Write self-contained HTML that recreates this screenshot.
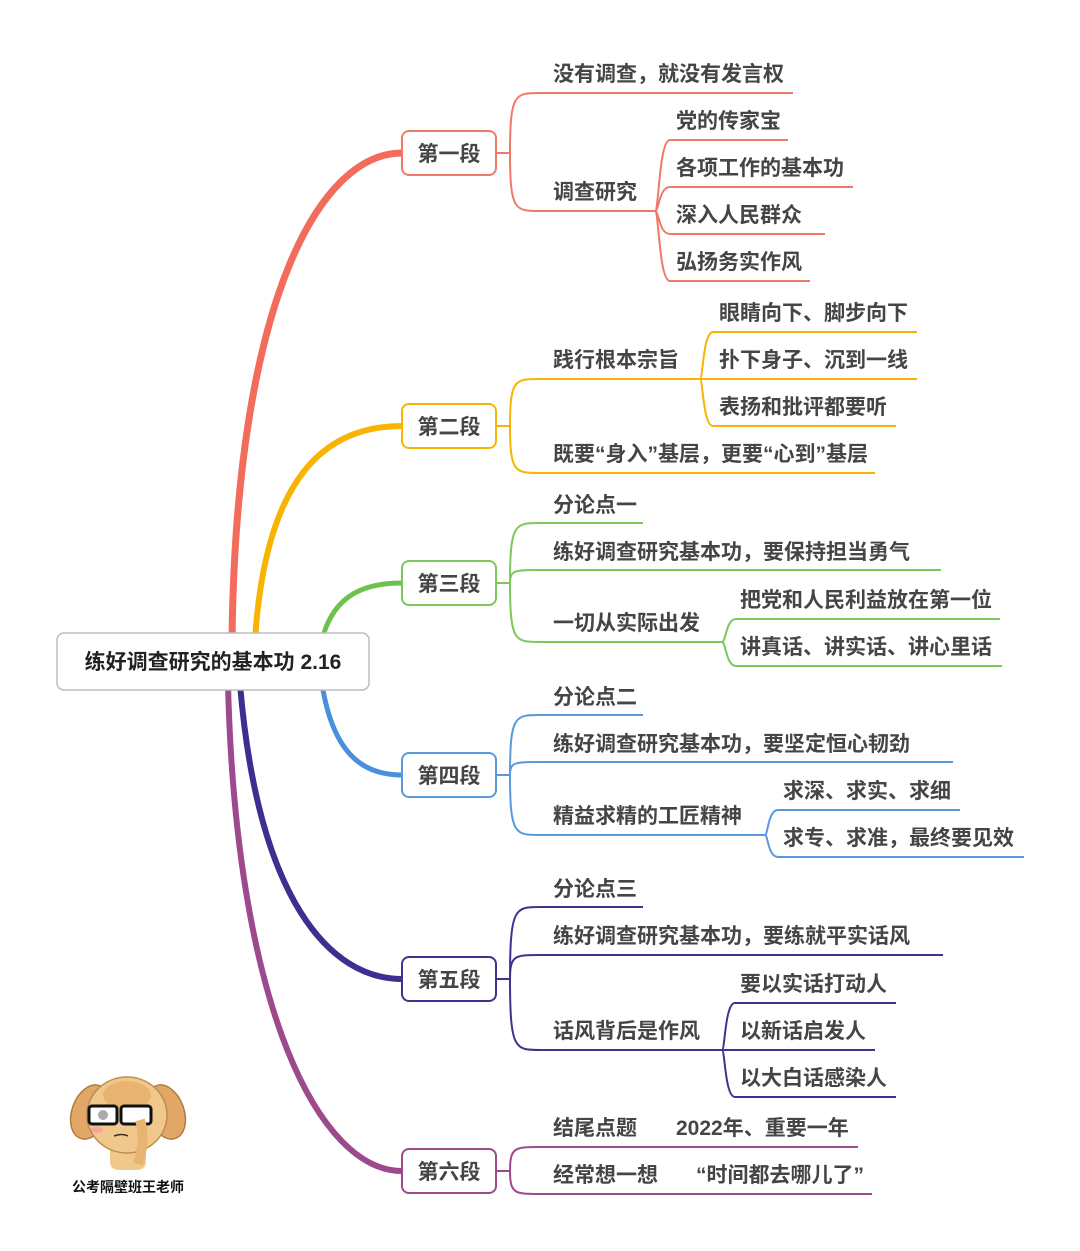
<!DOCTYPE html>
<html><head><meta charset="utf-8"><style>
html,body{margin:0;padding:0;background:#fff;}
svg{display:block;}
text{font-family:"Liberation Sans","Noto Sans CJK SC",sans-serif;font-weight:bold;fill:#454545;font-size:21px;}
</style></head><body>
<svg width="1080" height="1251" viewBox="0 0 1080 1251" xmlns="http://www.w3.org/2000/svg">
<g fill="none" stroke-linecap="round">
<!-- main curves -->
<path d="M232,640 C236,300 320,153 402,153" stroke="#f26b5b" stroke-width="7"/>
<path d="M255,640 C266,470 330,426 402,426" stroke="#f8b400" stroke-width="6"/>
<path d="M322,640 C334,592 368,583 402,583" stroke="#6cc24a" stroke-width="5"/>
<path d="M322,684 C334,760 368,775 402,775" stroke="#4a8fdc" stroke-width="5"/>
<path d="M240,684 C258,900 330,979 402,979" stroke="#3b2f8f" stroke-width="6"/>
<path d="M228,684 C236,1010 320,1171 402,1171" stroke="#9c4a8c" stroke-width="6"/>
</g>
<!-- root -->
<rect x="57" y="633" width="312" height="57" rx="7" fill="#fff" stroke="#bdbdbd" stroke-width="1.5"/>
<text x="213" y="669" text-anchor="middle" style="fill:#222">练好调查研究的基本功 2.16</text>

<g fill="none" stroke-width="2">
<!-- seg1 red -->
<g stroke="#f07a6a">
<path d="M496,153 H510 M510,153 C510,93 515,93 540,93 H793 M510,153 C510,211 515,211 540,211 H655"/>
<path d="M655,211 C659,211 659,140 670,140 H788 M655,211 C659,211 659,187 670,187 H853 M655,211 C659,211 659,234 670,234 H825 M655,211 C659,211 659,281 670,281 H810"/>
</g>
<!-- seg2 -->
<g stroke="#f8b400">
<path d="M496,426 H510 M510,426 C510,379 515,379 540,379 H700 M510,426 C510,473 515,473 540,473 H875"/>
<path d="M700,379 C703,379 703,332 713,332 H917 M700,379 H917 M700,379 C703,379 703,426 713,426 H896"/>
</g>
<!-- seg3 -->
<g stroke="#7cc75a">
<path d="M496,583 H510 M510,583 C510,523 515,523 540,523 H643 M510,583 C510,570 515,570 540,570 H941 M510,583 C510,642 515,642 540,642 H722"/>
<path d="M722,642 C726,642 726,619 736,619 H1000 M722,642 C726,642 726,666 736,666 H1002"/>
</g>
<!-- seg4 -->
<g stroke="#5a98dc">
<path d="M496,775 H510 M510,775 C510,715 515,715 540,715 H643 M510,775 C510,762 515,762 540,762 H953 M510,775 C510,835 515,835 540,835 H765"/>
<path d="M765,835 C768,835 768,810 778,810 H960 M765,835 C768,835 768,857 778,857 H1024"/>
</g>
<!-- seg5 -->
<g stroke="#3f3390">
<path d="M496,979 H510 M510,979 C510,907 515,907 540,907 H643 M510,979 C510,955 515,955 540,955 H943 M510,979 C510,1050 515,1050 540,1050 H722"/>
<path d="M722,1050 C725,1050 725,1003 735,1003 H896 M722,1050 H875 M722,1050 C725,1050 725,1097 735,1097 H896"/>
</g>
<!-- seg6 -->
<g stroke="#9c4a8c">
<path d="M496,1171 H510 M510,1171 C510,1147 515,1147 540,1147 H858 M510,1171 C510,1194 515,1194 540,1194 H872"/>
</g>
</g>

<!-- branch boxes -->
<g fill="#fff" stroke-width="2">
<rect x="402" y="131" width="94" height="44" rx="7" stroke="#f07a6a"/>
<rect x="402" y="404" width="94" height="44" rx="7" stroke="#f8b400"/>
<rect x="402" y="561" width="94" height="44" rx="7" stroke="#7cc75a"/>
<rect x="402" y="753" width="94" height="44" rx="7" stroke="#5a98dc"/>
<rect x="402" y="957" width="94" height="44" rx="7" stroke="#3f3390"/>
<rect x="402" y="1149" width="94" height="44" rx="7" stroke="#9c4a8c"/>
</g>
<g text-anchor="middle">
<text x="449" y="161">第一段</text>
<text x="449" y="434">第二段</text>
<text x="449" y="591">第三段</text>
<text x="449" y="783">第四段</text>
<text x="449" y="987">第五段</text>
<text x="449" y="1179">第六段</text>
</g>

<text x="553" y="81">没有调查，就没有发言权</text>
<text x="553" y="199">调查研究</text>
<text x="676" y="128">党的传家宝</text>
<text x="676" y="175">各项工作的基本功</text>
<text x="676" y="222">深入人民群众</text>
<text x="676" y="269">弘扬务实作风</text>

<text x="553" y="367">践行根本宗旨</text>
<text x="719" y="320">眼睛向下、脚步向下</text>
<text x="719" y="367">扑下身子、沉到一线</text>
<text x="719" y="414">表扬和批评都要听</text>
<text x="553" y="461">既要“身入”基层，更要“心到”基层</text>

<text x="553" y="512">分论点一</text>
<text x="553" y="559">练好调查研究基本功，要保持担当勇气</text>
<text x="553" y="630">一切从实际出发</text>
<text x="740" y="607">把党和人民利益放在第一位</text>
<text x="740" y="654">讲真话、讲实话、讲心里话</text>

<text x="553" y="704">分论点二</text>
<text x="553" y="751">练好调查研究基本功，要坚定恒心韧劲</text>
<text x="553" y="823">精益求精的工匠精神</text>
<text x="783" y="798">求深、求实、求细</text>
<text x="783" y="845">求专、求准，最终要见效</text>

<text x="553" y="896">分论点三</text>
<text x="553" y="943">练好调查研究基本功，要练就平实话风</text>
<text x="553" y="1038">话风背后是作风</text>
<text x="740" y="991">要以实话打动人</text>
<text x="740" y="1038">以新话启发人</text>
<text x="740" y="1085">以大白话感染人</text>

<text x="553" y="1135">结尾点题</text>
<text x="676" y="1135">2022年、重要一年</text>
<text x="553" y="1182">经常想一想</text>
<text x="696" y="1182">“时间都去哪儿了”</text>

<!-- mascot -->
<g>
<ellipse cx="90" cy="1112" rx="18" ry="28" fill="#e0a766" stroke="#b07a40" stroke-width="1.5" transform="rotate(20 90 1112)"/>
<ellipse cx="166" cy="1112" rx="18" ry="28" fill="#e0a766" stroke="#b07a40" stroke-width="1.5" transform="rotate(-20 166 1112)"/>
<rect x="110" y="1140" width="36" height="30" rx="8" fill="#f1c88c"/>
<ellipse cx="127" cy="1115" rx="40" ry="38" fill="#f1c88c" stroke="#c08a50" stroke-width="1.5"/>
<ellipse cx="127" cy="1095" rx="24" ry="14" fill="#e9b472"/>
<rect x="89" y="1106" width="28" height="18" rx="3" fill="#fff" stroke="#111" stroke-width="3"/>
<rect x="121" y="1106" width="30" height="18" rx="3" fill="#fff" stroke="#111" stroke-width="3"/>
<circle cx="103" cy="1115" r="5" fill="#aaa"/>
<path d="M114,1136 q8,-3 14,0" stroke="#333" stroke-width="1.5" fill="none"/>
<ellipse cx="97" cy="1130" rx="6" ry="3" fill="#f5a5a0"/>
<path d="M140,1120 q6,20 -2,44" stroke="#e9b472" stroke-width="10" fill="none"/>
</g>
<text x="128" y="1192" text-anchor="middle" style="font-size:14px;fill:#111">公考隔壁班王老师</text>
</svg>
</body></html>
